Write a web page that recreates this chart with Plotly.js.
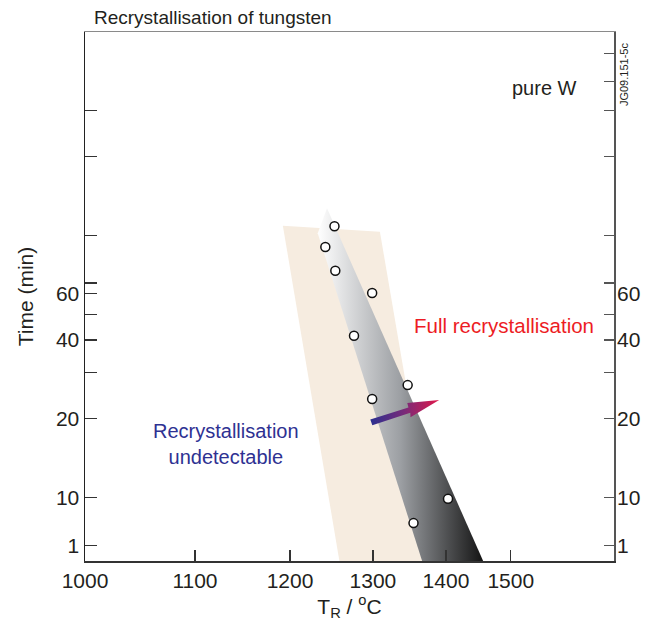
<!DOCTYPE html>
<html>
<head>
<meta charset="utf-8">
<script src="https://cdn.plot.ly/plotly-3.0.1.min.js"></script>
<style>html,body{margin:0;padding:0;background:#fff;}#chart{width:645px;height:626px;}</style>
</head>
<body>
<div id="chart"></div>
<script>
// ---- data (temperature in °C, time in min) ----
const tempTicks = [1000, 1100, 1200, 1300, 1400, 1500];
const tempTickLabels = ['1000', '1100', '1200', '1300', '1400', '1500'];

const leftTickVals = [6.57, 10, 20, 30, 40, 50, 60, 66, 100, 200, 300];
const leftTickText = ['1', '10', '20', ' ', '40', ' ', '60', ' ', ' ', ' ', ' '];
const rightTickVals = [6.57, 10, 20, 30, 40, 50, 66, 100, 200, 300, 389, 495];
const rightLabelVals = [6.57, 10, 20, 40, 60];
const rightLabelText = ['1', '10', '20', '40', '60'];

const pointTemp = [1252, 1241, 1253, 1299, 1276, 1346, 1299, 1403, 1354];
const pointTime = [108.6, 90.6, 73.5, 60.4, 41.5, 26.9, 23.8, 9.9, 8.0];

const scatterBandTemp = [1192, 1309, 1386, 1258];
const scatterBandTime = [109.2, 103.6, 5.73, 5.73];

const transitionTemp = [1243, 1232, 1366, 1456];
const transitionTime = [127.3, 102.1, 5.73, 5.73];

const arrowTemp = [1296.6, 1347.1, 1345.5, 1390.1, 1349.9, 1349.6, 1299.2];
const arrowTime = [19.9, 22.1, 23.0, 23.6, 20.3, 21.1, 18.9];

// reciprocal-temperature axis: x = -10^4 / T[K]
const toX = T => -1e4 / (T + 273.15);

const FONT = 'Liberation Sans, Arial, Helvetica, sans-serif';
const INK = '#231f20';
const xRange = [toX(1000), -5.1027];
const yRange = [0.7584, 2.7775];

const traces = [
  {
    x: scatterBandTemp.map(toX), y: scatterBandTime,
    type: 'scatter', mode: 'lines', fill: 'toself',
    fillcolor: '#f6ece0', line: {width: 0, color: 'rgba(0,0,0,0)'},
    hoverinfo: 'skip', showlegend: false
  },
  {
    x: transitionTemp.map(toX), y: transitionTime,
    type: 'scatter', mode: 'lines', fill: 'toself',
    fillgradient: {type: 'horizontal', colorscale: [[0, '#ffffff'], [0.5, '#9c9fa3'], [1, '#141414']]},
    line: {width: 0, color: 'rgba(0,0,0,0)'},
    hoverinfo: 'skip', showlegend: false
  },
  {
    x: arrowTemp.map(toX), y: arrowTime,
    type: 'scatter', mode: 'lines', fill: 'toself',
    fillgradient: {type: 'horizontal', colorscale: [[0, '#2b3090'], [0.5, '#7a2a78'], [1, '#e0174a']]},
    line: {width: 0, color: 'rgba(0,0,0,0)'},
    hoverinfo: 'skip', showlegend: false
  },
  {
    x: pointTemp.map(toX), y: pointTime,
    type: 'scatter', mode: 'markers',
    marker: {size: 9, color: '#ffffff', line: {color: '#111', width: 1.5}},
    showlegend: false
  },
  {x: [toX(1000)], y: [100], xaxis: 'x2', yaxis: 'y2', mode: 'markers', marker: {opacity: 0}, hoverinfo: 'skip', showlegend: false},
  {x: [toX(1000)], y: [100], xaxis: 'x2', yaxis: 'y3', mode: 'markers', marker: {opacity: 0}, hoverinfo: 'skip', showlegend: false}
];

const layout = {
  width: 645, height: 626,
  margin: {l: 85, r: 31, t: 32, b: 65},
  paper_bgcolor: '#ffffff', plot_bgcolor: '#ffffff',
  font: {family: FONT, color: INK, size: 21},
  showlegend: false,
  title: {
    text: 'Recrystallisation of tungsten',
    font: {family: FONT, size: 19, color: INK},
    x: 94 / 645, xref: 'container', xanchor: 'left',
    y: 1 - 17 / 626, yref: 'container', yanchor: 'middle'
  },
  xaxis: {
    range: xRange, showgrid: false, zeroline: false,
    tickvals: tempTicks.map(toX), ticktext: tempTickLabels,
    ticks: 'inside', ticklen: 11, tickwidth: 1.2, tickcolor: '#333',
    showline: true, linecolor: '#333', linewidth: 1.5,
    tickfont: {size: 21, color: INK},
    title: {text: 'T<sub>R</sub> / <sup>o</sup>C', font: {size: 21, color: INK}, standoff: 4}
  },
  xaxis2: {
    range: xRange, overlaying: 'x', side: 'top', showgrid: false, zeroline: false,
    showticklabels: false, ticks: '', showline: true, linecolor: '#8a8a8a', linewidth: 1.5
  },
  yaxis: {
    type: 'log', range: yRange, showgrid: false, zeroline: false,
    tickvals: leftTickVals, ticktext: leftTickText,
    ticks: 'inside', ticklen: 12, tickwidth: 1.2, tickcolor: '#333',
    showline: true, linecolor: '#222', linewidth: 1.5,
    tickfont: {size: 21, color: INK},
    title: {text: 'Time (min)', font: {size: 21, color: INK}, standoff: 16}
  },
  yaxis2: {
    type: 'log', range: yRange, overlaying: 'y', side: 'right', anchor: 'x2',
    showgrid: false, zeroline: false, tickvals: rightTickVals,
    showticklabels: false, ticks: 'inside', ticklen: 10, tickwidth: 1.2, tickcolor: '#555',
    showline: true, linecolor: '#555', linewidth: 1.5
  },
  yaxis3: {
    type: 'log', range: yRange, overlaying: 'y', side: 'right', anchor: 'x2',
    showgrid: false, zeroline: false, tickvals: rightLabelVals, ticktext: rightLabelText,
    ticks: '', showline: false, ticklabelstandoff: 2, tickfont: {size: 21, color: INK}
  },
  annotations: [
    {text: 'pure W', xref: 'paper', yref: 'paper', x: 0.934, y: 0.894,
     xanchor: 'right', yanchor: 'middle', showarrow: false, font: {size: 20, color: INK}},
    {text: 'Full recrystallisation', xref: 'paper', yref: 'paper', x: 0.792, y: 0.446,
     xanchor: 'center', yanchor: 'middle', showarrow: false, font: {size: 20.5, color: '#ed1c24'}},
    {text: 'Recrystallisation<br>undetectable', xref: 'paper', yref: 'paper', x: 0.2665, y: 0.221,
     xanchor: 'center', yanchor: 'middle', showarrow: false, font: {size: 20, color: '#2e3192'}},
    {text: 'JG09.151-5c', xref: 'paper', yref: 'paper', x: 1.019, y: 0.9187, textangle: -90,
     xanchor: 'center', yanchor: 'middle', showarrow: false, font: {size: 11, color: INK}}
  ]
};

Plotly.newPlot('chart', traces, layout, {displayModeBar: false, staticPlot: true});
</script>
</body>
</html>
